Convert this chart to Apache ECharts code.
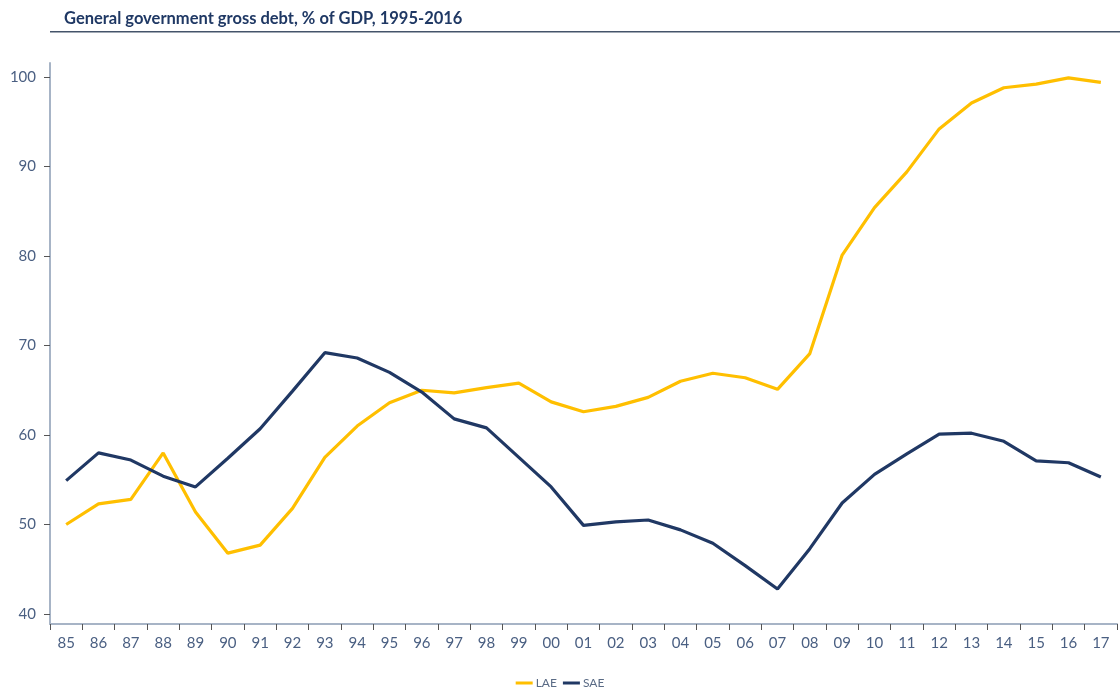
<!DOCTYPE html>
<html>
<head>
<meta charset="utf-8">
<title>General government gross debt</title>
<script src="https://cdn.jsdelivr.net/npm/echarts@6/dist/echarts.min.js"></script>
<style>
  html, body { margin: 0; padding: 0; background: #ffffff; }
  #chart { width: 1120px; height: 695px; }
</style>
</head>
<body>
<div id="chart"></div>
<script>
// Year labels (two-digit), 1985-2017
const years = ['85','86','87','88','89','90','91','92','93','94','95','96','97','98','99',
               '00','01','02','03','04','05','06','07','08','09','10','11','12','13','14','15','16','17'];

// General government gross debt, % of GDP
const lae = [50.0, 52.3, 52.8, 58.0, 51.4, 46.8, 47.7, 51.8, 57.5, 61.0, 63.6, 65.0, 64.7, 65.3, 65.8,
             63.7, 62.6, 63.2, 64.2, 66.0, 66.9, 66.4, 65.1, 69.1, 80.1, 85.4, 89.4, 94.2, 97.1, 98.8, 99.2, 99.9, 99.4];
const sae = [54.9, 58.0, 57.2, 55.4, 54.2, 57.4, 60.7, 64.9, 69.2, 68.6, 67.0, 64.8, 61.8, 60.8, 57.5,
             54.2, 49.9, 50.3, 50.5, 49.4, 47.9, 45.4, 42.8, 47.3, 52.4, 55.6, 57.9, 60.1, 60.2, 59.3, 57.1, 56.9, 55.3];

const yTicks = { min: 40, max: 100, step: 10 };

const labelColor = '#4a5f82';
const axisColor = '#a7b4c6';
const fontFamily = 'Lato, "Liberation Sans", Arial, sans-serif';

const chart = echarts.init(document.getElementById('chart'));
chart.setOption({
  backgroundColor: '#ffffff',
  animation: false,
  title: {
    text: 'General government gross debt, % of GDP, 1995-2016',
    left: 59, top: 5,
    textStyle: { color: '#1f3864', fontSize: 16.5, fontWeight: 'bold', fontFamily: fontFamily }
  },
  graphic: [{
    type: 'rect',
    shape: { x: 50, y: 31, width: 1070, height: 1.5 },
    style: { fill: '#44546a' }
  }],
  legend: {
    data: ['LAE', 'SAE'],
    left: 'center', bottom: 1,
    icon: 'rect', itemWidth: 17, itemHeight: 3, itemGap: 6,
    textStyle: { color: '#5a6b85', fontSize: 12, fontFamily: fontFamily, padding: [0, 0, 0, -2] }
  },
  grid: [
    // frame grid: carries the axis lines and the year labels
    { left: 50, right: 3, top: 63, bottom: 71 },
    // data grid: 40-100 scale
    { left: 50, right: 3, top: 77, bottom: 81 }
  ],
  xAxis: [
    {
      type: 'category', gridIndex: 0, data: years, boundaryGap: true,
      axisLine: { show: true, lineStyle: { color: axisColor, width: 2 } },
      axisTick: { show: true, length: 6, lineStyle: { color: '#555555', width: 1 } },
      axisLabel: { color: labelColor, fontSize: 15, margin: 12, fontFamily: fontFamily, interval: 0 }
    },
    {
      type: 'category', gridIndex: 1, data: years, boundaryGap: true, show: false
    }
  ],
  yAxis: [
    {
      type: 'value', gridIndex: 0, min: 0, max: 1,
      axisLine: { show: true, lineStyle: { color: axisColor, width: 2 } },
      axisTick: { show: false }, axisLabel: { show: false }, splitLine: { show: false }
    },
    {
      type: 'value', gridIndex: 1, min: yTicks.min, max: yTicks.max, interval: yTicks.step,
      axisLine: { show: false },
      axisTick: { show: true, length: 6, lineStyle: { color: '#555555', width: 1 } },
      axisLabel: { color: labelColor, fontSize: 15, margin: 14, fontFamily: fontFamily },
      splitLine: { show: false }
    }
  ],
  series: [
    {
      name: 'LAE', type: 'line', xAxisIndex: 1, yAxisIndex: 1, data: lae,
      symbol: 'none', color: '#ffbf00',
      lineStyle: { width: 3.2, color: '#ffbf00' }
    },
    {
      name: 'SAE', type: 'line', xAxisIndex: 1, yAxisIndex: 1, data: sae,
      symbol: 'none', color: '#203864',
      lineStyle: { width: 3.2, color: '#203864' }
    }
  ]
});
</script>
</body>
</html>
